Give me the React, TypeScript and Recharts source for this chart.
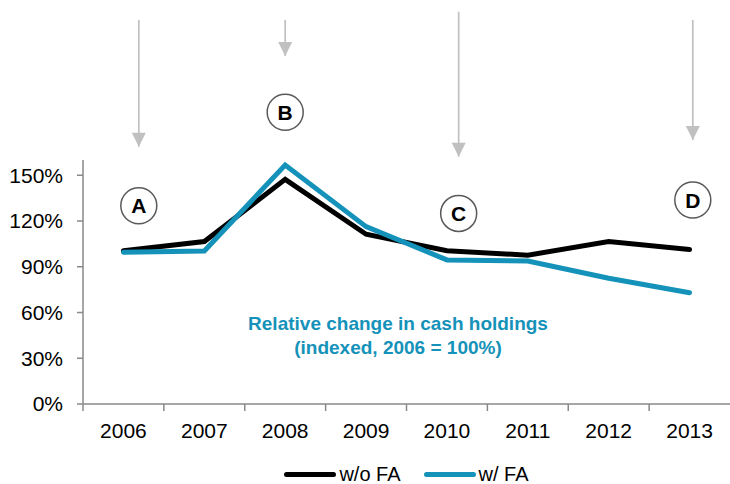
import React from 'react';
import { LineChart, Line, XAxis, YAxis, Legend, ReferenceDot, ReferenceLine } from 'recharts';

const years = ['2006', '2007', '2008', '2009', '2010', '2011', '2012', '2013'];
const withoutFA = [1.005, 1.065, 1.473, 1.113, 1.005, 0.976, 1.065, 1.013];
const withFA = [0.995, 1.003, 1.567, 1.163, 0.945, 0.938, 0.825, 0.73];
const yTicks = [0, 0.3, 0.6, 0.9, 1.2, 1.5];
const seriesNames = ['w/o FA', 'w/ FA'];

const noteLetters = ['A', 'B', 'C', 'D'];
const notePos = [0.19, 2.0, 4.145, 7.04];
const noteCircleY = [1.3, 1.913, 1.25, 1.338];
const arrowTailY = [2.518, 2.518, 2.572, 2.518];
const arrowTipY = [1.687, 2.282, 1.622, 1.731];

const captionLines = ['Relative change in cash holdings', '(indexed, 2006 = 100%)'];
const captionPos = { x: 3.395, y: 0.452 };

const W = 730;
const H = 484;
const Y_AXIS_W = 83;
const MARGIN = { top: 160, right: 0, bottom: 30, left: 0 };
const BAND = (W - Y_AXIS_W - MARGIN.left - MARGIN.right) / years.length;
const X_TICK_SIZE = 7;
const X_TICK_MARGIN = 13;

const FONT = '"Liberation Sans", Arial, sans-serif';
const AXIS = '#898989';
const BLACK = '#000000';
const BLUE = '#1592b9';
const ARROW = '#c0c0c0';

const data = years.map((y, i) => ({ year: y, idx: i, woFA: withoutFA[i], wFA: withFA[i] }));

const XTick = (props: any) => {
  const { x, y, payload } = props;
  const axisY = y - X_TICK_SIZE - X_TICK_MARGIN;
  const bx = x - BAND / 2;
  return (
    <g>
      <line x1={bx} x2={bx} y1={axisY} y2={axisY + X_TICK_SIZE} stroke={AXIS} strokeWidth={1.5} />
      <text x={x} y={y} dy="0.68em" textAnchor="middle" fill="#000" fontSize={21} fontFamily={FONT}>
        {payload.value}
      </text>
    </g>
  );
};

const NoteCircle = (letter: string) => (props: any) => {
  const { cx, cy } = props;
  return (
    <g>
      <circle cx={cx} cy={cy} r={18} fill="#fff" stroke="#5a5a5a" strokeWidth={1.5} />
      <text x={cx} y={cy} dy="0.36em" textAnchor="middle" fontSize={21} fontWeight="bold" fontFamily={FONT} fill="#000">
        {letter}
      </text>
    </g>
  );
};

const ArrowHead = (props: any) => {
  const { cx, cy } = props;
  return <path d={`M${cx - 7},${cy - 14} L${cx + 7},${cy - 14} L${cx},${cy} Z`} fill={ARROW} />;
};

const Caption = (props: any) => {
  const { cx, cy } = props;
  return (
    <text textAnchor="middle" fontSize={19} fontWeight="bold" fontFamily={FONT} fill={BLUE}>
      {captionLines.map((l, i) => (
        <tspan key={i} x={cx} y={cy + (i - 0.5) * 24} dy="0.36em">
          {l}
        </tspan>
      ))}
    </text>
  );
};

const renderLegend = (props: any) => {
  const payload = [...(props.payload || [])].sort(
    (a: any, b: any) => seriesNames.indexOf(a.value) - seriesNames.indexOf(b.value)
  );
  return (
    <div
      style={{
        display: 'flex',
        justifyContent: 'center',
        alignItems: 'center',
        fontFamily: FONT,
        fontSize: 20,
        lineHeight: '18px',
        color: '#000',
        height: 18,
      }}
    >
      {payload.map((p: any, i: number) => (
        <div key={i} style={{ display: 'flex', alignItems: 'center', marginLeft: i ? 23 : 0 }}>
          <span
            style={{
              display: 'inline-block',
              width: 52,
              height: 5,
              background: p.color,
              borderRadius: 3,
              marginRight: 3,
            }}
          />
          <span>{p.value}</span>
        </div>
      ))}
    </div>
  );
};

export default function App() {
  return (
    <div style={{ position: 'absolute', left: 0, top: 0, width: W, height: H, background: '#fff' }}>
      <LineChart width={W} height={H} data={data} margin={MARGIN}>
        <XAxis
          dataKey="year"
          type="category"
          scale="band"
          interval={0}
          height={50}
          axisLine={{ stroke: AXIS, strokeWidth: 1.5 }}
          tickLine={false}
          tickSize={X_TICK_SIZE}
          tickMargin={X_TICK_MARGIN}
          tick={<XTick />}
        />
        <XAxis xAxisId="ann" dataKey="idx" type="number" domain={[-0.5, 7.5]} allowDataOverflow hide />
        <YAxis
          width={Y_AXIS_W}
          domain={[0, 1.6]}
          ticks={yTicks}
          allowDataOverflow
          tickFormatter={(v: number) => `${Math.round(v * 100)}%`}
          axisLine={{ stroke: AXIS, strokeWidth: 1.5 }}
          tickLine={{ stroke: AXIS, strokeWidth: 1.5 }}
          tickSize={6}
          tickMargin={14}
          tick={{ fill: '#000', fontSize: 21, fontFamily: FONT }}
        />
        <Legend
          verticalAlign="middle"
          align="center"
          layout="horizontal"
          content={renderLegend}
          wrapperStyle={{ left: Y_AXIS_W, width: W - Y_AXIS_W, top: 465, height: 18 }}
        />
        {noteLetters.map((l, i) => (
          <ReferenceLine
            key={`shaft-${l}`}
            xAxisId="ann"
            ifOverflow="visible"
            segment={[
              { x: notePos[i], y: arrowTailY[i] },
              { x: notePos[i], y: arrowTipY[i] },
            ]}
            stroke={ARROW}
            strokeWidth={1.7}
          />
        ))}
        {noteLetters.map((l, i) => (
          <ReferenceDot
            key={`head-${l}`}
            xAxisId="ann"
            x={notePos[i]}
            y={arrowTipY[i]}
            ifOverflow="visible"
            shape={ArrowHead}
          />
        ))}
        {noteLetters.map((l, i) => (
          <ReferenceDot
            key={`note-${l}`}
            xAxisId="ann"
            x={notePos[i]}
            y={noteCircleY[i]}
            ifOverflow="visible"
            shape={NoteCircle(l)}
          />
        ))}
        <ReferenceDot xAxisId="ann" x={captionPos.x} y={captionPos.y} ifOverflow="visible" shape={Caption} />
        <Line
          type="linear"
          dataKey="woFA"
          name={seriesNames[0]}
          stroke={BLACK}
          strokeWidth={5}
          strokeLinecap="round"
          dot={false}
          activeDot={false}
          isAnimationActive={false}
        />
        <Line
          type="linear"
          dataKey="wFA"
          name={seriesNames[1]}
          stroke={BLUE}
          strokeWidth={5}
          strokeLinecap="round"
          dot={false}
          activeDot={false}
          isAnimationActive={false}
        />
      </LineChart>
    </div>
  );
}
